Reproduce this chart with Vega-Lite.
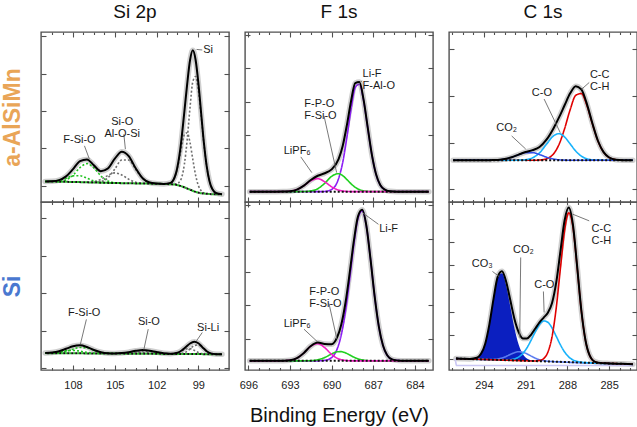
{
"$schema": "https://vega.github.io/schema/vega-lite/v6.json",
"padding": {"left": 0, "top": 2, "right": 0, "bottom": 0},
"background": "white",
"columns": 3,
"bounds": "flush",
"spacing": {"row": 0, "column": 16},
"datasets": {
"A": [
{"s":"env","e":110,"i":0.12},{"s":"env","e":109.5,"i":0.125},{"s":"env","e":109,"i":0.155},{"s":"env","e":108.5,"i":0.254},{"s":"env","e":108,"i":0.449},{"s":"env","e":107.5,"i":0.663},{"s":"env","e":107,"i":0.708},{"s":"env","e":106.5,"i":0.548},{"s":"env","e":106,"i":0.391},{"s":"env","e":105.5,"i":0.463},{"s":"env","e":105,"i":0.727},{"s":"env","e":104.5,"i":0.912},{"s":"env","e":104,"i":0.796},{"s":"env","e":103.5,"i":0.471},{"s":"env","e":103,"i":0.203},{"s":"env","e":102.5,"i":0.089},{"s":"env","e":102,"i":0.061},{"s":"env","e":101.5,"i":0.053},{"s":"env","e":101,"i":0.08},{"s":"env","e":100.6,"i":0.348},{"s":"env","e":100.3,"i":0.976},{"s":"env","e":100,"i":2.0},{"s":"env","e":99.8,"i":2.73},{"s":"env","e":99.6,"i":3.35},{"s":"env","e":99.4,"i":3.62},{"s":"env","e":99.2,"i":3.37},{"s":"env","e":99,"i":2.75},{"s":"env","e":98.8,"i":1.94},{"s":"env","e":98.6,"i":1.14},{"s":"env","e":98.4,"i":0.52},{"s":"env","e":98.2,"i":0.125},{"s":"env","e":98,"i":-0.084},{"s":"env","e":97.7,"i":-0.195},{"s":"env","e":97.3,"i":-0.22},
{"s":"base","e":110,"i":0.12},{"s":"base","e":108,"i":0.105},{"s":"base","e":106,"i":0.085},{"s":"base","e":104,"i":0.07},{"s":"base","e":102,"i":0.057},{"s":"base","e":101,"i":0.045},{"s":"base","e":100.6,"i":0.03},{"s":"base","e":100.3,"i":0.0},{"s":"base","e":100,"i":-0.04},{"s":"base","e":99.6,"i":-0.1},{"s":"base","e":99.2,"i":-0.16},{"s":"base","e":98.8,"i":-0.195},{"s":"base","e":98.4,"i":-0.21},{"s":"base","e":98,"i":-0.22},{"s":"base","e":97.3,"i":-0.22},
{"s":"f1","e":109.5,"i":0.118},{"s":"f1","e":109,"i":0.123},{"s":"f1","e":108.5,"i":0.16},{"s":"f1","e":108,"i":0.285},{"s":"f1","e":107.5,"i":0.49},{"s":"f1","e":107,"i":0.595},{"s":"f1","e":106.5,"i":0.48},{"s":"f1","e":106,"i":0.265},{"s":"f1","e":105.5,"i":0.13},{"s":"f1","e":105,"i":0.085},{"s":"f1","e":104.5,"i":0.073},
{"s":"f2","e":110,"i":0.12},{"s":"f2","e":109.5,"i":0.125},{"s":"f2","e":109,"i":0.147},{"s":"f2","e":108.5,"i":0.204},{"s":"f2","e":108,"i":0.269},{"s":"f2","e":107.5,"i":0.273},{"s":"f2","e":107,"i":0.204},{"s":"f2","e":106.5,"i":0.131},{"s":"f2","e":106,"i":0.094},{"s":"f2","e":105.5,"i":0.081},{"s":"f2","e":105,"i":0.077},
{"s":"s1","e":106.5,"i":0.094},{"s":"s1","e":106,"i":0.114},{"s":"s1","e":105.5,"i":0.214},{"s":"s1","e":105,"i":0.449},{"s":"s1","e":104.5,"i":0.692},{"s":"s1","e":104,"i":0.689},{"s":"s1","e":103.5,"i":0.439},{"s":"s1","e":103,"i":0.198},{"s":"s1","e":102.5,"i":0.089},{"s":"s1","e":102,"i":0.061},
{"s":"s2","e":107,"i":0.099},{"s":"s2","e":106.5,"i":0.113},{"s":"s2","e":106,"i":0.173},{"s":"s2","e":105.5,"i":0.278},{"s":"s2","e":105,"i":0.347},{"s":"s2","e":104.5,"i":0.293},{"s":"s2","e":104,"i":0.177},{"s":"s2","e":103.5,"i":0.099},{"s":"s2","e":103,"i":0.069},{"s":"s2","e":102.5,"i":0.06},
{"s":"si1","e":101,"i":0.045},{"s":"si1","e":100.6,"i":0.048},{"s":"si1","e":100.3,"i":0.136},{"s":"si1","e":100,"i":0.59},{"s":"si1","e":99.8,"i":1.24},{"s":"si1","e":99.6,"i":2.09},{"s":"si1","e":99.4,"i":2.78},{"s":"si1","e":99.2,"i":2.92},{"s":"si1","e":99,"i":2.56},{"s":"si1","e":98.8,"i":1.875},{"s":"si1","e":98.6,"i":1.125},{"s":"si1","e":98.4,"i":0.52},{"s":"si1","e":98.2,"i":0.125},{"s":"si1","e":98,"i":-0.084},{"s":"si1","e":97.7,"i":-0.195},{"s":"si1","e":97.3,"i":-0.22},
{"s":"si2","e":101.5,"i":0.053},{"s":"si2","e":101,"i":0.08},{"s":"si2","e":100.6,"i":0.33},{"s":"si2","e":100.3,"i":0.84},{"s":"si2","e":100,"i":1.37},{"s":"si2","e":99.8,"i":1.42},{"s":"si2","e":99.6,"i":1.16},{"s":"si2","e":99.4,"i":0.71},{"s":"si2","e":99.2,"i":0.29},{"s":"si2","e":99,"i":0.01},{"s":"si2","e":98.8,"i":-0.129},{"s":"si2","e":98.6,"i":-0.187},{"s":"si2","e":98.4,"i":-0.207},{"s":"si2","e":98.2,"i":-0.215}
],
"D": [
{"s":"env","e":110,"i":0.403},{"s":"env","e":109.5,"i":0.416},{"s":"env","e":109,"i":0.451},{"s":"env","e":108.5,"i":0.515},{"s":"env","e":108,"i":0.584},{"s":"env","e":107.5,"i":0.609},{"s":"env","e":107,"i":0.564},{"s":"env","e":106.5,"i":0.484},{"s":"env","e":106,"i":0.425},{"s":"env","e":105.5,"i":0.397},{"s":"env","e":105,"i":0.392},{"s":"env","e":104.5,"i":0.402},{"s":"env","e":104,"i":0.426},{"s":"env","e":103.5,"i":0.461},{"s":"env","e":103,"i":0.481},{"s":"env","e":102.5,"i":0.466},{"s":"env","e":102,"i":0.428},{"s":"env","e":101.5,"i":0.397},{"s":"env","e":101,"i":0.385},{"s":"env","e":100.5,"i":0.411},{"s":"env","e":100.2,"i":0.471},{"s":"env","e":99.9,"i":0.563},{"s":"env","e":99.6,"i":0.656},{"s":"env","e":99.3,"i":0.702},{"s":"env","e":99,"i":0.663},{"s":"env","e":98.7,"i":0.554},{"s":"env","e":98.4,"i":0.45},{"s":"env","e":98.1,"i":0.393},{"s":"env","e":97.7,"i":0.373},{"s":"env","e":97.3,"i":0.37},
{"s":"base","e":110,"i":0.40},{"s":"base","e":97.3,"i":0.37},
{"s":"f1","e":109.5,"i":0.402},{"s":"f1","e":109,"i":0.412},{"s":"f1","e":108.5,"i":0.446},{"s":"f1","e":108,"i":0.505},{"s":"f1","e":107.5,"i":0.551},{"s":"f1","e":107,"i":0.537},{"s":"f1","e":106.5,"i":0.476},{"s":"f1","e":106,"i":0.423},{"s":"f1","e":105.5,"i":0.397},{"s":"f1","e":105,"i":0.389},
{"s":"f2","e":110,"i":0.403},{"s":"f2","e":109.5,"i":0.413},{"s":"f2","e":109,"i":0.437},{"s":"f2","e":108.5,"i":0.465},{"s":"f2","e":108,"i":0.474},{"s":"f2","e":107.5,"i":0.452},{"s":"f2","e":107,"i":0.42},{"s":"f2","e":106.5,"i":0.40},{"s":"f2","e":106,"i":0.393},
{"s":"s1","e":104.5,"i":0.39},{"s":"s1","e":104,"i":0.398},{"s":"s1","e":103.5,"i":0.421},{"s":"s1","e":103,"i":0.447},{"s":"s1","e":102.5,"i":0.449},{"s":"s1","e":102,"i":0.423},{"s":"s1","e":101.5,"i":0.396},{"s":"s1","e":101,"i":0.383},
{"s":"s2","e":105,"i":0.391},{"s":"s2","e":104.5,"i":0.399},{"s":"s2","e":104,"i":0.414},{"s":"s2","e":103.5,"i":0.425},{"s":"s2","e":103,"i":0.417},{"s":"s2","e":102.5,"i":0.399},{"s":"s2","e":102,"i":0.386},
{"s":"si1","e":100.5,"i":0.38},{"s":"si1","e":100.2,"i":0.39},{"s":"si1","e":99.9,"i":0.427},{"s":"si1","e":99.6,"i":0.51},{"s":"si1","e":99.3,"i":0.601},{"s":"si1","e":99,"i":0.618},{"s":"si1","e":98.7,"i":0.541},{"s":"si1","e":98.4,"i":0.448},{"s":"si1","e":98.1,"i":0.393},{"s":"si1","e":97.7,"i":0.373},
{"s":"si2","e":101,"i":0.381},{"s":"si2","e":100.5,"i":0.409},{"s":"si2","e":100.2,"i":0.458},{"s":"si2","e":99.9,"i":0.512},{"s":"si2","e":99.6,"i":0.521},{"s":"si2","e":99.3,"i":0.476},{"s":"si2","e":99,"i":0.419},{"s":"si2","e":98.7,"i":0.386},{"s":"si2","e":98.4,"i":0.375}
],
"B": [
{"s":"env","e":695.9,"i":0.31},{"s":"env","e":694,"i":0.31},{"s":"env","e":693.5,"i":0.312},{"s":"env","e":693,"i":0.324},{"s":"env","e":692.5,"i":0.372},{"s":"env","e":692,"i":0.492},{"s":"env","e":691.5,"i":0.658},{"s":"env","e":691,"i":0.786},{"s":"env","e":690.5,"i":0.861},{"s":"env","e":690,"i":0.978},{"s":"env","e":689.5,"i":1.283},{"s":"env","e":689.2,"i":1.686},{"s":"env","e":688.9,"i":2.308},{"s":"env","e":688.6,"i":3.026},{"s":"env","e":688.3,"i":3.559},{"s":"env","e":688,"i":3.591},{"s":"env","e":687.7,"i":3.064},{"s":"env","e":687.4,"i":2.228},{"s":"env","e":687.1,"i":1.412},{"s":"env","e":686.8,"i":0.83},{"s":"env","e":686.5,"i":0.51},{"s":"env","e":686.2,"i":0.376},{"s":"env","e":685.8,"i":0.32},{"s":"env","e":685.3,"i":0.31},{"s":"env","e":683,"i":0.31},
{"s":"base","e":695.9,"i":0.31},{"s":"base","e":683,"i":0.31},
{"s":"purple","e":695.9,"i":0.31},{"s":"purple","e":691,"i":0.31},{"s":"purple","e":690.5,"i":0.316},{"s":"purple","e":690,"i":0.376},{"s":"purple","e":689.5,"i":0.70},{"s":"purple","e":689.2,"i":1.19},{"s":"purple","e":688.9,"i":1.94},{"s":"purple","e":688.6,"i":2.79},{"s":"purple","e":688.3,"i":3.43},{"s":"purple","e":688,"i":3.53},{"s":"purple","e":687.7,"i":3.04},{"s":"purple","e":687.4,"i":2.22},{"s":"purple","e":687.1,"i":1.41},{"s":"purple","e":686.8,"i":0.83},{"s":"purple","e":686.5,"i":0.51},{"s":"purple","e":686.2,"i":0.376},{"s":"purple","e":685.8,"i":0.32},{"s":"purple","e":685.3,"i":0.31},{"s":"purple","e":683,"i":0.31},
{"s":"green","e":695.9,"i":0.31},{"s":"green","e":693,"i":0.31},{"s":"green","e":692,"i":0.313},{"s":"green","e":691.5,"i":0.33},{"s":"green","e":691,"i":0.397},{"s":"green","e":690.5,"i":0.56},{"s":"green","e":690,"i":0.768},{"s":"green","e":689.5,"i":0.848},{"s":"green","e":689.2,"i":0.788},{"s":"green","e":688.9,"i":0.672},{"s":"green","e":688.6,"i":0.544},{"s":"green","e":688.3,"i":0.439},{"s":"green","e":688,"i":0.371},{"s":"green","e":687.7,"i":0.334},{"s":"green","e":687.4,"i":0.318},{"s":"green","e":687.1,"i":0.312},{"s":"green","e":686.5,"i":0.31},{"s":"green","e":683,"i":0.31},
{"s":"magenta","e":695.9,"i":0.31},{"s":"magenta","e":694,"i":0.31},{"s":"magenta","e":693.5,"i":0.312},{"s":"magenta","e":693,"i":0.324},{"s":"magenta","e":692.5,"i":0.372},{"s":"magenta","e":692,"i":0.489},{"s":"magenta","e":691.5,"i":0.638},{"s":"magenta","e":691,"i":0.699},{"s":"magenta","e":690.5,"i":0.605},{"s":"magenta","e":690,"i":0.454},{"s":"magenta","e":689.5,"i":0.355},{"s":"magenta","e":689.2,"i":0.328},{"s":"magenta","e":688.9,"i":0.316},{"s":"magenta","e":688.6,"i":0.312},{"s":"magenta","e":688.3,"i":0.31},{"s":"magenta","e":683,"i":0.31}
],
"E": [
{"s":"env","e":695.9,"i":0.33},{"s":"env","e":694,"i":0.33},{"s":"env","e":693.5,"i":0.333},{"s":"env","e":693,"i":0.348},{"s":"env","e":692.5,"i":0.412},{"s":"env","e":692,"i":0.569},{"s":"env","e":691.5,"i":0.774},{"s":"env","e":691,"i":0.878},{"s":"env","e":690.5,"i":0.837},{"s":"env","e":690,"i":0.829},{"s":"env","e":689.6,"i":1.04},{"s":"env","e":689.3,"i":1.429},{"s":"env","e":689,"i":2.081},{"s":"env","e":688.7,"i":2.969},{"s":"env","e":688.4,"i":3.931},{"s":"env","e":688.1,"i":4.669},{"s":"env","e":687.8,"i":4.867},{"s":"env","e":687.5,"i":4.391},{"s":"env","e":687.2,"i":3.383},{"s":"env","e":686.9,"i":2.26},{"s":"env","e":686.6,"i":1.36},{"s":"env","e":686.3,"i":0.79},{"s":"env","e":686,"i":0.5},{"s":"env","e":685.6,"i":0.366},{"s":"env","e":685,"i":0.334},{"s":"env","e":683,"i":0.33},
{"s":"base","e":695.9,"i":0.33},{"s":"base","e":683,"i":0.33},
{"s":"purple","e":695.9,"i":0.33},{"s":"purple","e":691,"i":0.33},{"s":"purple","e":690.5,"i":0.344},{"s":"purple","e":690,"i":0.428},{"s":"purple","e":689.6,"i":0.69},{"s":"purple","e":689.3,"i":1.12},{"s":"purple","e":689,"i":1.83},{"s":"purple","e":688.7,"i":2.79},{"s":"purple","e":688.4,"i":3.82},{"s":"purple","e":688.1,"i":4.61},{"s":"purple","e":687.8,"i":4.84},{"s":"purple","e":687.5,"i":4.38},{"s":"purple","e":687.2,"i":3.38},{"s":"purple","e":686.9,"i":2.26},{"s":"purple","e":686.6,"i":1.36},{"s":"purple","e":686.3,"i":0.79},{"s":"purple","e":686,"i":0.5},{"s":"purple","e":685.6,"i":0.366},{"s":"purple","e":685,"i":0.334},{"s":"purple","e":683,"i":0.33},
{"s":"green","e":695.9,"i":0.33},{"s":"green","e":692.5,"i":0.33},{"s":"green","e":692,"i":0.331},{"s":"green","e":691.5,"i":0.336},{"s":"green","e":691,"i":0.36},{"s":"green","e":690.5,"i":0.429},{"s":"green","e":690,"i":0.538},{"s":"green","e":689.6,"i":0.602},{"s":"green","e":689.3,"i":0.606},{"s":"green","e":689,"i":0.569},{"s":"green","e":688.7,"i":0.507},{"s":"green","e":688.4,"i":0.441},{"s":"green","e":688.1,"i":0.389},{"s":"green","e":687.8,"i":0.357},{"s":"green","e":687.5,"i":0.341},{"s":"green","e":687.2,"i":0.333},{"s":"green","e":686.9,"i":0.33},{"s":"green","e":683,"i":0.33},
{"s":"magenta","e":695.9,"i":0.33},{"s":"magenta","e":694,"i":0.33},{"s":"magenta","e":693.5,"i":0.333},{"s":"magenta","e":693,"i":0.348},{"s":"magenta","e":692.5,"i":0.412},{"s":"magenta","e":692,"i":0.568},{"s":"magenta","e":691.5,"i":0.768},{"s":"magenta","e":691,"i":0.848},{"s":"magenta","e":690.5,"i":0.724},{"s":"magenta","e":690,"i":0.523},{"s":"magenta","e":689.6,"i":0.408},{"s":"magenta","e":689.3,"i":0.363},{"s":"magenta","e":689,"i":0.342},{"s":"magenta","e":688.7,"i":0.332},{"s":"magenta","e":688.4,"i":0.33},{"s":"magenta","e":683,"i":0.33}
],
"C": [
{"s":"env","e":296.2,"i":0.62},{"s":"env","e":294,"i":0.62},{"s":"env","e":293.5,"i":0.622},{"s":"env","e":293,"i":0.627},{"s":"env","e":292.5,"i":0.645},{"s":"env","e":292,"i":0.684},{"s":"env","e":291.5,"i":0.741},{"s":"env","e":291,"i":0.795},{"s":"env","e":290.5,"i":0.836},{"s":"env","e":290,"i":0.904},{"s":"env","e":289.5,"i":1.06},{"s":"env","e":289,"i":1.302},{"s":"env","e":288.6,"i":1.537},{"s":"env","e":288.2,"i":1.797},{"s":"env","e":287.8,"i":2.052},{"s":"env","e":287.4,"i":2.206},{"s":"env","e":287,"i":2.136},{"s":"env","e":286.6,"i":1.828},{"s":"env","e":286.2,"i":1.405},{"s":"env","e":285.8,"i":1.032},{"s":"env","e":285.4,"i":0.794},{"s":"env","e":285,"i":0.679},{"s":"env","e":284.5,"i":0.631},{"s":"env","e":284,"i":0.622},{"s":"env","e":283.3,"i":0.62},
{"s":"base","e":296.2,"i":0.62},{"s":"base","e":283.3,"i":0.62},
{"s":"red","e":296.2,"i":0.62},{"s":"red","e":290.5,"i":0.62},{"s":"red","e":290,"i":0.625},{"s":"red","e":289.5,"i":0.652},{"s":"red","e":289,"i":0.755},{"s":"red","e":288.6,"i":0.958},{"s":"red","e":288.2,"i":1.296},{"s":"red","e":287.8,"i":1.702},{"s":"red","e":287.4,"i":2.009},{"s":"red","e":287,"i":2.048},{"s":"red","e":286.6,"i":1.796},{"s":"red","e":286.2,"i":1.396},{"s":"red","e":285.8,"i":1.03},{"s":"red","e":285.4,"i":0.794},{"s":"red","e":285,"i":0.679},{"s":"red","e":284.5,"i":0.631},{"s":"red","e":284,"i":0.622},{"s":"red","e":283.3,"i":0.62},
{"s":"cyan","e":296.2,"i":0.62},{"s":"cyan","e":292,"i":0.62},{"s":"cyan","e":291.5,"i":0.622},{"s":"cyan","e":291,"i":0.632},{"s":"cyan","e":290.5,"i":0.672},{"s":"cyan","e":290,"i":0.778},{"s":"cyan","e":289.5,"i":0.962},{"s":"cyan","e":289,"i":1.141},{"s":"cyan","e":288.6,"i":1.189},{"s":"cyan","e":288.2,"i":1.118},{"s":"cyan","e":287.8,"i":0.97},{"s":"cyan","e":287.4,"i":0.817},{"s":"cyan","e":287,"i":0.708},{"s":"cyan","e":286.6,"i":0.652},{"s":"cyan","e":286.2,"i":0.629},{"s":"cyan","e":285.8,"i":0.622},{"s":"cyan","e":283.3,"i":0.62},
{"s":"blue","e":296.2,"i":0.62},{"s":"blue","e":294,"i":0.62},{"s":"blue","e":293.5,"i":0.622},{"s":"blue","e":293,"i":0.627},{"s":"blue","e":292.5,"i":0.645},{"s":"blue","e":292,"i":0.684},{"s":"blue","e":291.5,"i":0.739},{"s":"blue","e":291,"i":0.783},{"s":"blue","e":290.5,"i":0.784},{"s":"blue","e":290,"i":0.741},{"s":"blue","e":289.5,"i":0.686},{"s":"blue","e":289,"i":0.646},{"s":"blue","e":288.6,"i":0.63},{"s":"blue","e":288.2,"i":0.623},{"s":"blue","e":287.8,"i":0.62},{"s":"blue","e":283.3,"i":0.62}
],
"F": [
{"s":"env","e":296,"i":0},{"s":"env","e":295.5,"i":-0.009},{"s":"env","e":295,"i":-0.015},{"s":"env","e":294.5,"i":0.036},{"s":"env","e":294.2,"i":0.203},{"s":"env","e":293.9,"i":0.638},{"s":"env","e":293.6,"i":1.471},{"s":"env","e":293.3,"i":2.575},{"s":"env","e":293,"i":3.514},{"s":"env","e":292.7,"i":3.748},{"s":"env","e":292.4,"i":3.311},{"s":"env","e":292.1,"i":2.512},{"s":"env","e":291.8,"i":1.70},{"s":"env","e":291.5,"i":1.134},{"s":"env","e":291.2,"i":0.866},{"s":"env","e":290.9,"i":0.861},{"s":"env","e":290.6,"i":1.032},{"s":"env","e":290.3,"i":1.293},{"s":"env","e":290,"i":1.555},{"s":"env","e":289.7,"i":1.761},{"s":"env","e":289.4,"i":1.968},{"s":"env","e":289.1,"i":2.386},{"s":"env","e":288.8,"i":3.267},{"s":"env","e":288.5,"i":4.599},{"s":"env","e":288.2,"i":5.925},{"s":"env","e":287.9,"i":6.482},{"s":"env","e":287.6,"i":5.744},{"s":"env","e":287.3,"i":3.968},{"s":"env","e":287,"i":2.085},{"s":"env","e":286.7,"i":0.789},{"s":"env","e":286.4,"i":0.139},{"s":"env","e":286,"i":-0.14},{"s":"env","e":285.5,"i":-0.195},{"s":"env","e":285,"i":-0.208},{"s":"env","e":284,"i":-0.227},{"s":"env","e":283.3,"i":-0.24},
{"s":"base","e":296,"i":0},{"s":"base","e":283.3,"i":-0.24},
{"s":"fill","e":295.5,"i":-0.009,"b":-0.009},{"s":"fill","e":295,"i":-0.015,"b":-0.019},{"s":"fill","e":294.5,"i":0.036,"b":-0.028},{"s":"fill","e":294.2,"i":0.203,"b":-0.034},{"s":"fill","e":293.9,"i":0.636,"b":-0.04},{"s":"fill","e":293.6,"i":1.465,"b":-0.045},{"s":"fill","e":293.3,"i":2.559,"b":-0.051},{"s":"fill","e":293,"i":3.473,"b":-0.057},{"s":"fill","e":292.7,"i":3.658,"b":-0.062},{"s":"fill","e":292.4,"i":3.142,"b":-0.068},{"s":"fill","e":292.1,"i":2.236,"b":-0.074},{"s":"fill","e":291.8,"i":1.301,"b":-0.079},{"s":"fill","e":291.5,"i":0.605,"b":-0.085},{"s":"fill","e":291.2,"i":0.194,"b":-0.091},{"s":"fill","e":290.9,"i":0.002,"b":-0.096},{"s":"fill","e":290.6,"i":-0.074,"b":-0.102},{"s":"fill","e":290.3,"i":-0.101,"b":-0.108},
{"s":"co2","e":296,"i":0},{"s":"co2","e":294.5,"i":-0.028},{"s":"co2","e":294.2,"i":-0.034},{"s":"co2","e":293.9,"i":-0.038},{"s":"co2","e":293.6,"i":-0.039},{"s":"co2","e":293.3,"i":-0.035},{"s":"co2","e":293,"i":-0.016},{"s":"co2","e":292.7,"i":0.026},{"s":"co2","e":292.4,"i":0.093},{"s":"co2","e":292.1,"i":0.178},{"s":"co2","e":291.8,"i":0.255},{"s":"co2","e":291.5,"i":0.293},{"s":"co2","e":291.2,"i":0.273},{"s":"co2","e":290.9,"i":0.203},{"s":"co2","e":290.6,"i":0.107},{"s":"co2","e":290.3,"i":0.017},{"s":"co2","e":290,"i":-0.05},{"s":"co2","e":289.7,"i":-0.092},{"s":"co2","e":289.4,"i":-0.115},{"s":"co2","e":289.1,"i":-0.127},{"s":"co2","e":288.8,"i":-0.136},{"s":"co2","e":283.3,"i":-0.24},
{"s":"cyan","e":296,"i":0},{"s":"cyan","e":293,"i":-0.057},{"s":"cyan","e":292.7,"i":-0.06},{"s":"cyan","e":292.4,"i":-0.06},{"s":"cyan","e":292.1,"i":-0.05},{"s":"cyan","e":291.8,"i":-0.014},{"s":"cyan","e":291.5,"i":0.066},{"s":"cyan","e":291.2,"i":0.217},{"s":"cyan","e":290.9,"i":0.464},{"s":"cyan","e":290.6,"i":0.794},{"s":"cyan","e":290.3,"i":1.155},{"s":"cyan","e":290,"i":1.462},{"s":"cyan","e":289.7,"i":1.614},{"s":"cyan","e":289.4,"i":1.558},{"s":"cyan","e":289.1,"i":1.313},{"s":"cyan","e":288.8,"i":0.957},{"s":"cyan","e":288.5,"i":0.589},{"s":"cyan","e":288.2,"i":0.285},{"s":"cyan","e":287.9,"i":0.072},{"s":"cyan","e":287.6,"i":-0.056},{"s":"cyan","e":287.3,"i":-0.122},{"s":"cyan","e":287,"i":-0.155},{"s":"cyan","e":286.7,"i":-0.171},{"s":"cyan","e":286.4,"i":-0.181},{"s":"cyan","e":283.3,"i":-0.24},
{"s":"red","e":296,"i":0},{"s":"red","e":290.9,"i":-0.096},{"s":"red","e":290.6,"i":-0.101},{"s":"red","e":290.3,"i":-0.102},{"s":"red","e":290,"i":-0.083},{"s":"red","e":289.7,"i":0.001},{"s":"red","e":289.4,"i":0.275},{"s":"red","e":289.1,"i":0.94},{"s":"red","e":288.8,"i":2.174},{"s":"red","e":288.5,"i":3.868},{"s":"red","e":288.2,"i":5.493},{"s":"red","e":287.9,"i":6.257},{"s":"red","e":287.6,"i":5.641},{"s":"red","e":287.3,"i":3.926},{"s":"red","e":287,"i":2.07},{"s":"red","e":286.7,"i":0.784},{"s":"red","e":286.4,"i":0.139},{"s":"red","e":286,"i":-0.14},{"s":"red","e":285.5,"i":-0.195},{"s":"red","e":285,"i":-0.208},{"s":"red","e":284,"i":-0.227},{"s":"red","e":283.3,"i":-0.24},
{"s":"lav","e":283.3,"i":-0.26},{"s":"lav","e":283.4,"i":-0.3},{"s":"lav","e":295.95,"i":-0.3},{"s":"lav","e":296.05,"i":0.0}
],
"lead": [
{"p":"A","e":99.13,"i":3.645,"e2":98.72,"i2":3.63},{"p":"A","e":104.35,"i":1.38,"e2":104.24,"i2":0.98},{"p":"A","e":107.18,"i":1.07,"e2":106.82,"i2":0.71},
{"p":"D","e":107.04,"i":1.30,"e2":107.47,"i2":0.64},{"p":"D","e":102.6,"i":1.04,"e2":102.91,"i2":0.50},{"p":"D","e":98.72,"i":0.95,"e2":99.13,"i2":0.73},
{"p":"B","e":687.82,"i":3.63,"e2":688.13,"i2":3.48},{"p":"B","e":690.55,"i":2.58,"e2":689.64,"i2":0.88},{"p":"B","e":692.22,"i":1.35,"e2":691.43,"i2":0.88},
{"p":"E","e":686.63,"i":4.43,"e2":687.78,"i2":4.78},{"p":"E","e":690.19,"i":2.05,"e2":689.62,"i2":0.98},{"p":"E","e":691.99,"i":1.28,"e2":691.04,"i2":0.91},
{"p":"C","e":286.43,"i":2.285,"e2":286.98,"i2":2.14},{"p":"C","e":289.67,"i":1.93,"e2":288.51,"i2":1.21},{"p":"C","e":292.0,"i":1.14,"e2":290.99,"i2":0.86},
{"p":"F","e":286.43,"i":5.91,"e2":287.63,"i2":6.2},{"p":"F","e":293.38,"i":3.74,"e2":292.9,"i2":3.52},{"p":"F","e":291.35,"i":4.34,"e2":291.42,"i2":0.90},{"p":"F","e":289.72,"i":2.88,"e2":289.67,"i2":1.98}
],
"labL": [
{"p":"A","e":98.65,"i":3.62,"t":"Si"},
{"p":"B","e":687.77,"i":3.83,"t":"Li-F\nF-Al-O"},{"p":"B","e":691.97,"i":2.93,"t":"F-P-O\nF-Si-O"},{"p":"B","e":693.45,"i":1.53,"t":"LiPF₆"},
{"p":"E","e":686.58,"i":4.28,"t":"Li-F"},{"p":"E","e":691.61,"i":2.40,"t":"F-P-O\nF-Si-O"},{"p":"E","e":693.45,"i":1.45,"t":"LiPF₆"},
{"p":"C","e":286.38,"i":2.44,"t":"C-C\nC-H"},{"p":"C","e":293.1,"i":1.32,"t":"CO₂"},
{"p":"F","e":286.26,"i":5.55,"t":"C-C\nC-H"},{"p":"F","e":294.87,"i":4.05,"t":"CO₃"},{"p":"F","e":291.9,"i":4.67,"t":"CO₂"},{"p":"F","e":290.38,"i":3.17,"t":"C-O"}
],
"labC": [
{"p":"A","e":104.47,"i":1.70,"t":"Si-O\nAl-O-Si"},{"p":"A","e":107.54,"i":1.22,"t":"F-Si-O"},
{"p":"D","e":107.2,"i":1.48,"t":"F-Si-O"},{"p":"D","e":102.55,"i":1.22,"t":"Si-O"},{"p":"D","e":98.3,"i":1.08,"t":"Si-Li"},
{"p":"C","e":289.83,"i":2.07,"t":"C-O"}
]
},
"concat": [
{
"width": 188, "height": 170,
"title": {"text": "Si 2p"},
"data": {"name": "A"},
"resolve": {"axis": {"x": "independent", "y": "independent"}},
"layer": [
{"transform": [{"filter": "datum.s=='env'"}], "mark": {"type": "line", "stroke": "#cfcfcf", "strokeWidth": 5.5, "interpolate": "monotone", "strokeCap": "round"},
 "encoding": {"x": {"field": "e", "type": "quantitative", "scale": {"domain": [96.8, 110.3], "reverse": true, "nice": false, "zero": false}, "axis": {"orient": "bottom", "values": [108,105,102,99], "tickSize": -5, "labels": false, "title": null}},
  "y": {"field": "i", "type": "quantitative", "scale": {"domain": [-0.43, 4.11], "nice": false, "zero": false}, "axis": {"orient": "left", "values": [0,1,2,3,4], "tickSize": -5, "labels": false, "title": "a-AlSiMn", "titleColor": "#E9A557", "titleFontSize": 23, "titleFontWeight": "bold", "titlePadding": 16}}}},
{"transform": [{"filter": "datum.s!='env' && datum.s!='base' && datum.s!='fill'"}], "mark": {"type": "line", "strokeWidth": 1.6, "interpolate": "monotone"},
 "encoding": {"x": {"field": "e", "type": "quantitative", "axis": {"orient": "bottom", "values": [97.5,98.25,99.75,100.5,101.25,102.75,103.5,104.25,105.75,106.5,107.25,108.75,109.5], "tickSize": -2.5, "labels": false, "title": null}},
  "y": {"field": "i", "type": "quantitative", "axis": {"orient": "right", "values": [0,1,2,3,4], "tickSize": -5, "labels": false, "title": null}},
  "color": {"field": "s", "type": "nominal", "legend": null, "scale": {"domain": ["f1","f2","s1","s2","si1","si2","purple","green","magenta","red","cyan","blue","co2","lav"], "range": ["#22c322","#22c322","#6f6f6f","#6f6f6f","#6f6f6f","#6f6f6f","#8b1cf5","#1fd01f","#f21dc4","#e00000","#17b2fb","#3551e8","#5b7cf0","#c9c6f4"]}},
  "strokeDash": {"field": "s", "type": "nominal", "legend": null, "scale": {"domain": ["f1","f2","s1","s2","si1","si2","purple","green","magenta","red","cyan","blue","co2","lav"], "range": [[2,2],[2,2],[2,2],[2,2],[2,2],[2,2],[1,0],[1,0],[1,0],[1,0],[1,0],[1,0],[1,0],[1,0]]}}}},
{"transform": [{"filter": "datum.s=='base'"}], "mark": {"type": "line", "stroke": "#22c322", "strokeWidth": 2, "strokeDash": [2,2], "interpolate": "monotone"},
 "encoding": {"x": {"field": "e", "type": "quantitative", "axis": {"orient": "top", "values": [108,105,102,99], "tickSize": -5, "labels": false, "title": null}}, "y": {"field": "i", "type": "quantitative", "axis": null}}},
{"transform": [{"filter": "datum.s=='base'"}], "mark": {"type": "line", "stroke": "#111111", "strokeWidth": 2, "strokeDash": [2,2], "strokeDashOffset": 2, "interpolate": "monotone"},
 "encoding": {"x": {"field": "e", "type": "quantitative", "axis": {"orient": "top", "values": [97.5,98.25,99.75,100.5,101.25,102.75,103.5,104.25,105.75,106.5,107.25,108.75,109.5], "tickSize": -2.5, "labels": false, "title": null}}, "y": {"field": "i", "type": "quantitative", "axis": null}}},
{"transform": [{"filter": "datum.s=='env'"}], "mark": {"type": "line", "stroke": "#000000", "strokeWidth": 2, "interpolate": "monotone"},
 "encoding": {"x": {"field": "e", "type": "quantitative", "axis": null}, "y": {"field": "i", "type": "quantitative", "axis": null}}},
{"data": {"name": "lead"}, "transform": [{"filter": "datum.p=='A'"}], "mark": {"type": "rule", "stroke": "#6a6a6a", "strokeWidth": 0.9},
 "encoding": {"x": {"field": "e", "type": "quantitative", "axis": null}, "y": {"field": "i", "type": "quantitative", "axis": null}, "x2": {"field": "e2"}, "y2": {"field": "i2"}}},
{"data": {"name": "labL"}, "transform": [{"filter": "datum.p=='A'"}], "mark": {"type": "text", "align": "left", "baseline": "middle", "fontSize": 11, "color": "#1a1a1a", "lineBreak": "\n", "lineHeight": 12},
 "encoding": {"x": {"field": "e", "type": "quantitative", "axis": null}, "y": {"field": "i", "type": "quantitative", "axis": null}, "text": {"field": "t"}}},
{"data": {"name": "labC"}, "transform": [{"filter": "datum.p=='A'"}], "mark": {"type": "text", "align": "center", "baseline": "middle", "fontSize": 11, "color": "#1a1a1a", "lineBreak": "\n", "lineHeight": 12},
 "encoding": {"x": {"field": "e", "type": "quantitative", "axis": null}, "y": {"field": "i", "type": "quantitative", "axis": null}, "text": {"field": "t"}}}
]
},
{
"width": 188, "height": 170,
"title": {"text": "F 1s"},
"data": {"name": "B"},
"resolve": {"axis": {"x": "independent", "y": "independent"}},
"layer": [
{"transform": [{"filter": "datum.s=='env'"}], "mark": {"type": "line", "stroke": "#cfcfcf", "strokeWidth": 5.5, "interpolate": "monotone", "strokeCap": "round"},
 "encoding": {"x": {"field": "e", "type": "quantitative", "scale": {"domain": [682.7, 696.24], "reverse": true, "nice": false, "zero": false}, "axis": {"orient": "bottom", "values": [696,693,690,687,684], "tickSize": -5, "labels": false, "title": null}},
  "y": {"field": "i", "type": "quantitative", "scale": {"domain": [0, 5.09], "nice": false, "zero": false}, "axis": {"orient": "left", "values": [1,2,3,4,5], "tickSize": -5, "labels": false, "title": null}}}},
{"transform": [{"filter": "datum.s!='env' && datum.s!='base' && datum.s!='fill'"}], "mark": {"type": "line", "strokeWidth": 1.6, "interpolate": "monotone"},
 "encoding": {"x": {"field": "e", "type": "quantitative", "axis": {"orient": "bottom", "values": [683.25,684.75,685.5,686.25,687.75,688.5,689.25,690.75,691.5,692.25,693.75,694.5,695.25], "tickSize": -2.5, "labels": false, "title": null}},
  "y": {"field": "i", "type": "quantitative", "axis": {"orient": "right", "values": [1,2,3,4,5], "tickSize": -5, "labels": false, "title": null}},
  "color": {"field": "s", "type": "nominal", "legend": null, "scale": {"domain": ["f1","f2","s1","s2","si1","si2","purple","green","magenta","red","cyan","blue","co2","lav"], "range": ["#22c322","#22c322","#6f6f6f","#6f6f6f","#6f6f6f","#6f6f6f","#8b1cf5","#1fd01f","#f21dc4","#e00000","#17b2fb","#3551e8","#5b7cf0","#c9c6f4"]}},
  "strokeDash": {"field": "s", "type": "nominal", "legend": null, "scale": {"domain": ["f1","f2","s1","s2","si1","si2","purple","green","magenta","red","cyan","blue","co2","lav"], "range": [[2,2],[2,2],[2,2],[2,2],[2,2],[2,2],[1,0],[1,0],[1,0],[1,0],[1,0],[1,0],[1,0],[1,0]]}}}},
{"transform": [{"filter": "datum.s=='base'"}], "mark": {"type": "line", "stroke": "#111111", "strokeWidth": 2, "strokeDash": [2,2]},
 "encoding": {"x": {"field": "e", "type": "quantitative", "axis": {"orient": "top", "values": [696,693,690,687,684], "tickSize": -5, "labels": false, "title": null}}, "y": {"field": "i", "type": "quantitative", "axis": null}}},
{"transform": [{"filter": "datum.s=='env'"}], "mark": {"type": "line", "stroke": "#000000", "strokeWidth": 2, "interpolate": "monotone"},
 "encoding": {"x": {"field": "e", "type": "quantitative", "axis": {"orient": "top", "values": [683.25,684.75,685.5,686.25,687.75,688.5,689.25,690.75,691.5,692.25,693.75,694.5,695.25], "tickSize": -2.5, "labels": false, "title": null}}, "y": {"field": "i", "type": "quantitative", "axis": null}}},
{"data": {"name": "lead"}, "transform": [{"filter": "datum.p=='B'"}], "mark": {"type": "rule", "stroke": "#6a6a6a", "strokeWidth": 0.9},
 "encoding": {"x": {"field": "e", "type": "quantitative", "axis": null}, "y": {"field": "i", "type": "quantitative", "axis": null}, "x2": {"field": "e2"}, "y2": {"field": "i2"}}},
{"data": {"name": "labL"}, "transform": [{"filter": "datum.p=='B'"}], "mark": {"type": "text", "align": "left", "baseline": "middle", "fontSize": 11, "color": "#1a1a1a", "lineBreak": "\n", "lineHeight": 12},
 "encoding": {"x": {"field": "e", "type": "quantitative", "axis": null}, "y": {"field": "i", "type": "quantitative", "axis": null}, "text": {"field": "t"}}}
]
},
{
"width": 188, "height": 170,
"title": {"text": "C 1s"},
"data": {"name": "C"},
"resolve": {"axis": {"x": "independent", "y": "independent"}},
"layer": [
{"transform": [{"filter": "datum.s=='env'"}], "mark": {"type": "line", "stroke": "#cfcfcf", "strokeWidth": 5.5, "interpolate": "monotone", "strokeCap": "round"},
 "encoding": {"x": {"field": "e", "type": "quantitative", "scale": {"domain": [283.0, 296.5], "reverse": true, "nice": false, "zero": false}, "axis": {"orient": "bottom", "values": [294,291,288,285], "tickSize": -5, "labels": false, "title": null}},
  "y": {"field": "i", "type": "quantitative", "scale": {"domain": [-0.274, 3.366], "nice": false, "zero": false}, "axis": {"orient": "left", "values": [0,1,2,3], "tickSize": -5, "labels": false, "title": null}}}},
{"transform": [{"filter": "datum.s!='env' && datum.s!='base' && datum.s!='fill'"}], "mark": {"type": "line", "strokeWidth": 1.6, "interpolate": "monotone"},
 "encoding": {"x": {"field": "e", "type": "quantitative", "axis": {"orient": "bottom", "values": [283.5,284.25,285.75,286.5,287.25,288.75,289.5,290.25,291.75,292.5,293.25,294.75,295.5,296.25], "tickSize": -2.5, "labels": false, "title": null}},
  "y": {"field": "i", "type": "quantitative", "axis": {"orient": "right", "values": [0,1,2,3], "tickSize": -5, "labels": false, "title": null}},
  "color": {"field": "s", "type": "nominal", "legend": null, "scale": {"domain": ["f1","f2","s1","s2","si1","si2","purple","green","magenta","red","cyan","blue","co2","lav"], "range": ["#22c322","#22c322","#6f6f6f","#6f6f6f","#6f6f6f","#6f6f6f","#8b1cf5","#1fd01f","#f21dc4","#e00000","#17b2fb","#3551e8","#5b7cf0","#c9c6f4"]}},
  "strokeDash": {"field": "s", "type": "nominal", "legend": null, "scale": {"domain": ["f1","f2","s1","s2","si1","si2","purple","green","magenta","red","cyan","blue","co2","lav"], "range": [[2,2],[2,2],[2,2],[2,2],[2,2],[2,2],[1,0],[1,0],[1,0],[1,0],[1,0],[1,0],[1,0],[1,0]]}}}},
{"transform": [{"filter": "datum.s=='base'"}], "mark": {"type": "line", "stroke": "#111111", "strokeWidth": 2, "strokeDash": [2,2]},
 "encoding": {"x": {"field": "e", "type": "quantitative", "axis": {"orient": "top", "values": [294,291,288,285], "tickSize": -5, "labels": false, "title": null}}, "y": {"field": "i", "type": "quantitative", "axis": null}}},
{"transform": [{"filter": "datum.s=='env'"}], "mark": {"type": "line", "stroke": "#000000", "strokeWidth": 2, "interpolate": "monotone"},
 "encoding": {"x": {"field": "e", "type": "quantitative", "axis": {"orient": "top", "values": [283.5,284.25,285.75,286.5,287.25,288.75,289.5,290.25,291.75,292.5,293.25,294.75,295.5,296.25], "tickSize": -2.5, "labels": false, "title": null}}, "y": {"field": "i", "type": "quantitative", "axis": null}}},
{"data": {"name": "lead"}, "transform": [{"filter": "datum.p=='C'"}], "mark": {"type": "rule", "stroke": "#6a6a6a", "strokeWidth": 0.9},
 "encoding": {"x": {"field": "e", "type": "quantitative", "axis": null}, "y": {"field": "i", "type": "quantitative", "axis": null}, "x2": {"field": "e2"}, "y2": {"field": "i2"}}},
{"data": {"name": "labL"}, "transform": [{"filter": "datum.p=='C'"}], "mark": {"type": "text", "align": "left", "baseline": "middle", "fontSize": 11, "color": "#1a1a1a", "lineBreak": "\n", "lineHeight": 12},
 "encoding": {"x": {"field": "e", "type": "quantitative", "axis": null}, "y": {"field": "i", "type": "quantitative", "axis": null}, "text": {"field": "t"}}},
{"data": {"name": "labC"}, "transform": [{"filter": "datum.p=='C'"}], "mark": {"type": "text", "align": "center", "baseline": "middle", "fontSize": 11, "color": "#1a1a1a", "lineBreak": "\n", "lineHeight": 12},
 "encoding": {"x": {"field": "e", "type": "quantitative", "axis": null}, "y": {"field": "i", "type": "quantitative", "axis": null}, "text": {"field": "t"}}}
]
},
{
"width": 188, "height": 168,
"data": {"name": "D"},
"resolve": {"axis": {"x": "independent", "y": "independent"}},
"layer": [
{"transform": [{"filter": "datum.s=='env'"}], "mark": {"type": "line", "stroke": "#cfcfcf", "strokeWidth": 5.5, "interpolate": "monotone", "strokeCap": "round"},
 "encoding": {"x": {"field": "e", "type": "quantitative", "scale": {"domain": [96.8, 110.3], "reverse": true, "nice": false, "zero": false}, "axis": {"orient": "bottom", "values": [108,105,102,99], "tickSize": -5, "labels": true, "labelPadding": 14, "labelFlush": false, "labelOverlap": false, "title": null}},
  "y": {"field": "i", "type": "quantitative", "scale": {"domain": [-0.05, 4.43], "nice": false, "zero": false}, "axis": {"orient": "left", "values": [0,1,2,3,4], "tickSize": -5, "labels": false, "title": "Si", "titleColor": "#4A78D0", "titleFontSize": 23, "titleFontWeight": "bold", "titlePadding": 16}}}},
{"transform": [{"filter": "datum.s!='env' && datum.s!='base' && datum.s!='fill'"}], "mark": {"type": "line", "strokeWidth": 1.6, "interpolate": "monotone"},
 "encoding": {"x": {"field": "e", "type": "quantitative", "axis": {"orient": "bottom", "values": [97.5,98.25,99.75,100.5,101.25,102.75,103.5,104.25,105.75,106.5,107.25,108.75,109.5], "tickSize": -2.5, "labels": false, "title": null}},
  "y": {"field": "i", "type": "quantitative", "axis": {"orient": "right", "values": [0,1,2,3,4], "tickSize": -5, "labels": false, "title": null}},
  "color": {"field": "s", "type": "nominal", "legend": null, "scale": {"domain": ["f1","f2","s1","s2","si1","si2","purple","green","magenta","red","cyan","blue","co2","lav"], "range": ["#22c322","#22c322","#6f6f6f","#6f6f6f","#6f6f6f","#6f6f6f","#8b1cf5","#1fd01f","#f21dc4","#e00000","#17b2fb","#3551e8","#5b7cf0","#c9c6f4"]}},
  "strokeDash": {"field": "s", "type": "nominal", "legend": null, "scale": {"domain": ["f1","f2","s1","s2","si1","si2","purple","green","magenta","red","cyan","blue","co2","lav"], "range": [[2,2],[2,2],[2,2],[2,2],[2,2],[2,2],[1,0],[1,0],[1,0],[1,0],[1,0],[1,0],[1,0],[1,0]]}}}},
{"transform": [{"filter": "datum.s=='base'"}], "mark": {"type": "line", "stroke": "#22c322", "strokeWidth": 2, "strokeDash": [2,2]},
 "encoding": {"x": {"field": "e", "type": "quantitative", "axis": {"orient": "top", "values": [108,105,102,99], "tickSize": -5, "labels": false, "title": null}}, "y": {"field": "i", "type": "quantitative", "axis": null}}},
{"transform": [{"filter": "datum.s=='base'"}], "mark": {"type": "line", "stroke": "#111111", "strokeWidth": 2, "strokeDash": [2,2], "strokeDashOffset": 2},
 "encoding": {"x": {"field": "e", "type": "quantitative", "axis": {"orient": "top", "values": [97.5,98.25,99.75,100.5,101.25,102.75,103.5,104.25,105.75,106.5,107.25,108.75,109.5], "tickSize": -2.5, "labels": false, "title": null}}, "y": {"field": "i", "type": "quantitative", "axis": null}}},
{"transform": [{"filter": "datum.s=='env'"}], "mark": {"type": "line", "stroke": "#000000", "strokeWidth": 2, "interpolate": "monotone"},
 "encoding": {"x": {"field": "e", "type": "quantitative", "axis": null}, "y": {"field": "i", "type": "quantitative", "axis": null}}},
{"data": {"name": "lead"}, "transform": [{"filter": "datum.p=='D'"}], "mark": {"type": "rule", "stroke": "#6a6a6a", "strokeWidth": 0.9},
 "encoding": {"x": {"field": "e", "type": "quantitative", "axis": null}, "y": {"field": "i", "type": "quantitative", "axis": null}, "x2": {"field": "e2"}, "y2": {"field": "i2"}}},
{"data": {"name": "labC"}, "transform": [{"filter": "datum.p=='D'"}], "mark": {"type": "text", "align": "center", "baseline": "middle", "fontSize": 11, "color": "#1a1a1a", "lineBreak": "\n", "lineHeight": 12},
 "encoding": {"x": {"field": "e", "type": "quantitative", "axis": null}, "y": {"field": "i", "type": "quantitative", "axis": null}, "text": {"field": "t"}}}
]
},
{
"width": 188, "height": 168,
"data": {"name": "E"},
"resolve": {"axis": {"x": "independent", "y": "independent"}},
"layer": [
{"transform": [{"filter": "datum.s=='env'"}], "mark": {"type": "line", "stroke": "#cfcfcf", "strokeWidth": 5.5, "interpolate": "monotone", "strokeCap": "round"},
 "encoding": {"x": {"field": "e", "type": "quantitative", "scale": {"domain": [682.7, 696.24], "reverse": true, "nice": false, "zero": false}, "axis": {"orient": "bottom", "values": [696,693,690,687,684], "tickSize": -5, "labels": true, "labelPadding": 14, "labelFlush": false, "labelOverlap": false, "title": "Binding Energy (eV)", "titleFontSize": 20, "titleFontWeight": "normal", "titleColor": "#111111", "titlePadding": 15}},
  "y": {"field": "i", "type": "quantitative", "scale": {"domain": [0.055, 5.1], "nice": false, "zero": false}, "axis": {"orient": "left", "values": [1,2,3,4,5], "tickSize": -5, "labels": false, "title": null}}}},
{"transform": [{"filter": "datum.s!='env' && datum.s!='base' && datum.s!='fill'"}], "mark": {"type": "line", "strokeWidth": 1.6, "interpolate": "monotone"},
 "encoding": {"x": {"field": "e", "type": "quantitative", "axis": {"orient": "bottom", "values": [683.25,684.75,685.5,686.25,687.75,688.5,689.25,690.75,691.5,692.25,693.75,694.5,695.25], "tickSize": -2.5, "labels": false, "title": null}},
  "y": {"field": "i", "type": "quantitative", "axis": {"orient": "right", "values": [1,2,3,4,5], "tickSize": -5, "labels": false, "title": null}},
  "color": {"field": "s", "type": "nominal", "legend": null, "scale": {"domain": ["f1","f2","s1","s2","si1","si2","purple","green","magenta","red","cyan","blue","co2","lav"], "range": ["#22c322","#22c322","#6f6f6f","#6f6f6f","#6f6f6f","#6f6f6f","#8b1cf5","#1fd01f","#f21dc4","#e00000","#17b2fb","#3551e8","#5b7cf0","#c9c6f4"]}},
  "strokeDash": {"field": "s", "type": "nominal", "legend": null, "scale": {"domain": ["f1","f2","s1","s2","si1","si2","purple","green","magenta","red","cyan","blue","co2","lav"], "range": [[2,2],[2,2],[2,2],[2,2],[2,2],[2,2],[1,0],[1,0],[1,0],[1,0],[1,0],[1,0],[1,0],[1,0]]}}}},
{"transform": [{"filter": "datum.s=='base'"}], "mark": {"type": "line", "stroke": "#111111", "strokeWidth": 2, "strokeDash": [2,2]},
 "encoding": {"x": {"field": "e", "type": "quantitative", "axis": {"orient": "top", "values": [696,693,690,687,684], "tickSize": -5, "labels": false, "title": null}}, "y": {"field": "i", "type": "quantitative", "axis": null}}},
{"transform": [{"filter": "datum.s=='env'"}], "mark": {"type": "line", "stroke": "#000000", "strokeWidth": 2, "interpolate": "monotone"},
 "encoding": {"x": {"field": "e", "type": "quantitative", "axis": {"orient": "top", "values": [683.25,684.75,685.5,686.25,687.75,688.5,689.25,690.75,691.5,692.25,693.75,694.5,695.25], "tickSize": -2.5, "labels": false, "title": null}}, "y": {"field": "i", "type": "quantitative", "axis": null}}},
{"data": {"name": "lead"}, "transform": [{"filter": "datum.p=='E'"}], "mark": {"type": "rule", "stroke": "#6a6a6a", "strokeWidth": 0.9},
 "encoding": {"x": {"field": "e", "type": "quantitative", "axis": null}, "y": {"field": "i", "type": "quantitative", "axis": null}, "x2": {"field": "e2"}, "y2": {"field": "i2"}}},
{"data": {"name": "labL"}, "transform": [{"filter": "datum.p=='E'"}], "mark": {"type": "text", "align": "left", "baseline": "middle", "fontSize": 11, "color": "#1a1a1a", "lineBreak": "\n", "lineHeight": 12},
 "encoding": {"x": {"field": "e", "type": "quantitative", "axis": null}, "y": {"field": "i", "type": "quantitative", "axis": null}, "text": {"field": "t"}}}
]
},
{
"width": 188, "height": 168,
"data": {"name": "F"},
"resolve": {"axis": {"x": "independent", "y": "independent"}},
"layer": [
{"transform": [{"filter": "datum.s=='env'"}], "mark": {"type": "line", "stroke": "#cfcfcf", "strokeWidth": 5.5, "interpolate": "monotone", "strokeCap": "round"},
 "encoding": {"x": {"field": "e", "type": "quantitative", "scale": {"domain": [283.0, 296.5], "reverse": true, "nice": false, "zero": false}, "axis": {"orient": "bottom", "values": [294,291,288,285], "tickSize": -5, "labels": true, "labelPadding": 14, "labelFlush": false, "labelOverlap": false, "title": null}},
  "y": {"field": "i", "type": "quantitative", "scale": {"domain": [-0.49, 6.72], "nice": false, "zero": false}, "axis": {"orient": "left", "values": [0,1,2,3,4,5,6], "tickSize": -5, "labels": false, "title": null}}}},
{"transform": [{"filter": "datum.s=='fill'"}], "mark": {"type": "area", "color": "#0b1fc0", "interpolate": "monotone"},
 "encoding": {"x": {"field": "e", "type": "quantitative", "axis": null}, "y": {"field": "i", "type": "quantitative", "axis": null}, "y2": {"field": "b"}}},
{"transform": [{"filter": "datum.s!='env' && datum.s!='base' && datum.s!='fill'"}], "mark": {"type": "line", "strokeWidth": 1.6, "interpolate": "monotone"},
 "encoding": {"x": {"field": "e", "type": "quantitative", "axis": {"orient": "bottom", "values": [283.5,284.25,285.75,286.5,287.25,288.75,289.5,290.25,291.75,292.5,293.25,294.75,295.5,296.25], "tickSize": -2.5, "labels": false, "title": null}},
  "y": {"field": "i", "type": "quantitative", "axis": {"orient": "right", "values": [0,1,2,3,4,5,6], "tickSize": -5, "labels": false, "title": null}},
  "color": {"field": "s", "type": "nominal", "legend": null, "scale": {"domain": ["f1","f2","s1","s2","si1","si2","purple","green","magenta","red","cyan","blue","co2","lav"], "range": ["#22c322","#22c322","#6f6f6f","#6f6f6f","#6f6f6f","#6f6f6f","#8b1cf5","#1fd01f","#f21dc4","#e00000","#17b2fb","#3551e8","#5b7cf0","#c9c6f4"]}},
  "strokeDash": {"field": "s", "type": "nominal", "legend": null, "scale": {"domain": ["f1","f2","s1","s2","si1","si2","purple","green","magenta","red","cyan","blue","co2","lav"], "range": [[2,2],[2,2],[2,2],[2,2],[2,2],[2,2],[1,0],[1,0],[1,0],[1,0],[1,0],[1,0],[1,0],[1,0]]}}}},
{"transform": [{"filter": "datum.s=='base'"}], "mark": {"type": "line", "stroke": "#111111", "strokeWidth": 2, "strokeDash": [2,2]},
 "encoding": {"x": {"field": "e", "type": "quantitative", "axis": {"orient": "top", "values": [294,291,288,285], "tickSize": -5, "labels": false, "title": null}}, "y": {"field": "i", "type": "quantitative", "axis": null}}},
{"transform": [{"filter": "datum.s=='env'"}], "mark": {"type": "line", "stroke": "#000000", "strokeWidth": 2, "interpolate": "monotone"},
 "encoding": {"x": {"field": "e", "type": "quantitative", "axis": {"orient": "top", "values": [283.5,284.25,285.75,286.5,287.25,288.75,289.5,290.25,291.75,292.5,293.25,294.75,295.5,296.25], "tickSize": -2.5, "labels": false, "title": null}}, "y": {"field": "i", "type": "quantitative", "axis": null}}},
{"data": {"name": "lead"}, "transform": [{"filter": "datum.p=='F'"}], "mark": {"type": "rule", "stroke": "#6a6a6a", "strokeWidth": 0.9},
 "encoding": {"x": {"field": "e", "type": "quantitative", "axis": null}, "y": {"field": "i", "type": "quantitative", "axis": null}, "x2": {"field": "e2"}, "y2": {"field": "i2"}}},
{"data": {"name": "labL"}, "transform": [{"filter": "datum.p=='F'"}], "mark": {"type": "text", "align": "left", "baseline": "middle", "fontSize": 11, "color": "#1a1a1a", "lineBreak": "\n", "lineHeight": 12},
 "encoding": {"x": {"field": "e", "type": "quantitative", "axis": null}, "y": {"field": "i", "type": "quantitative", "axis": null}, "text": {"field": "t"}}}
]
}
],
"config": {
 "font": "Liberation Sans",
 "view": {"stroke": "#505050", "strokeWidth": 1.4},
 "axis": {"domain": false, "grid": false, "tickColor": "#505050", "tickWidth": 1.1, "labelFontSize": 11, "labelColor": "#222222", "labelFont": "Liberation Sans", "titleFont": "Liberation Sans"},
 "title": {"fontWeight": "normal", "fontSize": 19, "color": "#111111", "font": "Liberation Sans", "offset": 9, "anchor": "middle"}
}
}
